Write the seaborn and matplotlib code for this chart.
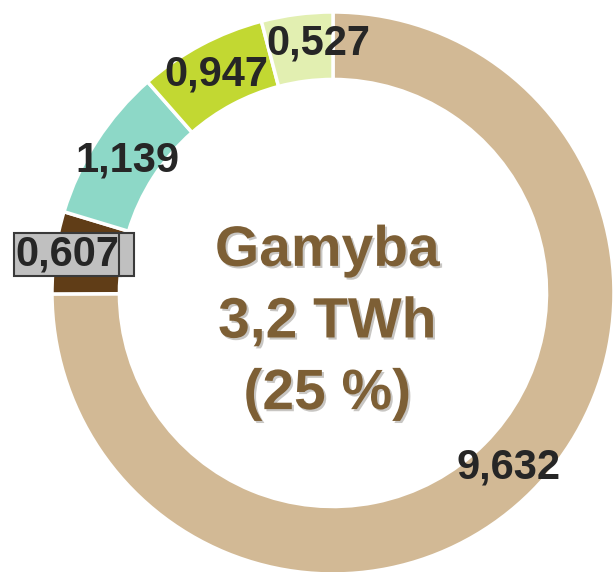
import numpy as np
import matplotlib
matplotlib.use("Agg")
import matplotlib.pyplot as plt
import matplotlib.patheffects as pe
import seaborn as sns

# values in TWh, clockwise from the top
values = [9.632, 0.607, 1.139, 0.947, 0.527]
labels = ["9,632", "0,607", "1,139", "0,947", "0,527"]
colors = ["#d2b995", "#603d17", "#8dd8c7", "#c2d832", "#e2efb1"]
center_lines = ["Gamyba", "3,2 TWh", "(25 %)"]

sns.set_theme(style="white")
plt.rcParams['font.family'] = ['Liberation Sans', 'DejaVu Sans']

fig = plt.figure(figsize=(6.15, 5.72), dpi=100)
ax = fig.add_axes([0, 0, 1, 1])

wedges, _ = ax.pie(values, colors=colors, startangle=90, counterclock=False,
                   radius=1.0, wedgeprops=dict(width=0.24, edgecolor="white", linewidth=2.5))

# label radius (fraction of outer radius) and angle tweak per wedge
lab_r = [0.88, 0.955, 0.87, 0.88, 0.89]
lab_dang = [0, 0, 0, 0, -4]
box_style = dict(boxstyle="square,pad=0.04", facecolor="#c0c0c0",
                 edgecolor="#3a3a3a", linewidth=1.5)
for w, lab, r, da in zip(wedges, labels, lab_r, lab_dang):
    ang = np.deg2rad((w.theta1 + w.theta2) / 2 + da)
    x, y = r * np.cos(ang), r * np.sin(ang)
    kw = {}
    if lab == "0,607":
        kw["bbox"] = box_style
    t = ax.text(x, y, lab, ha="center", va="center", fontsize=30, fontweight="bold",
                color="#262626", **kw)
    if lab == "0,607":
        # the small extra cell on the right of the boxed label
        ax.annotate(" ", xy=(1, 0.5), xycoords=t, xytext=(1.0, 0),
                    textcoords="offset points", ha="left", va="center",
                    fontsize=30, fontweight="bold", bbox=box_style)

ax.text(-0.02, -0.105, "\n".join(center_lines), ha="center", va="center",
        fontsize=41, fontweight="bold", color="#7d5f35", linespacing=1.42,
        path_effects=[pe.SimplePatchShadow(offset=(1.5, -1.5), alpha=0.25), pe.Normal()])

ax.set_xlim(-1.185, 1.0036)
ax.set_ylim(-0.993, 1.0427)
ax.axis("off")

fig.savefig("out.png", dpi=100, facecolor="white")
